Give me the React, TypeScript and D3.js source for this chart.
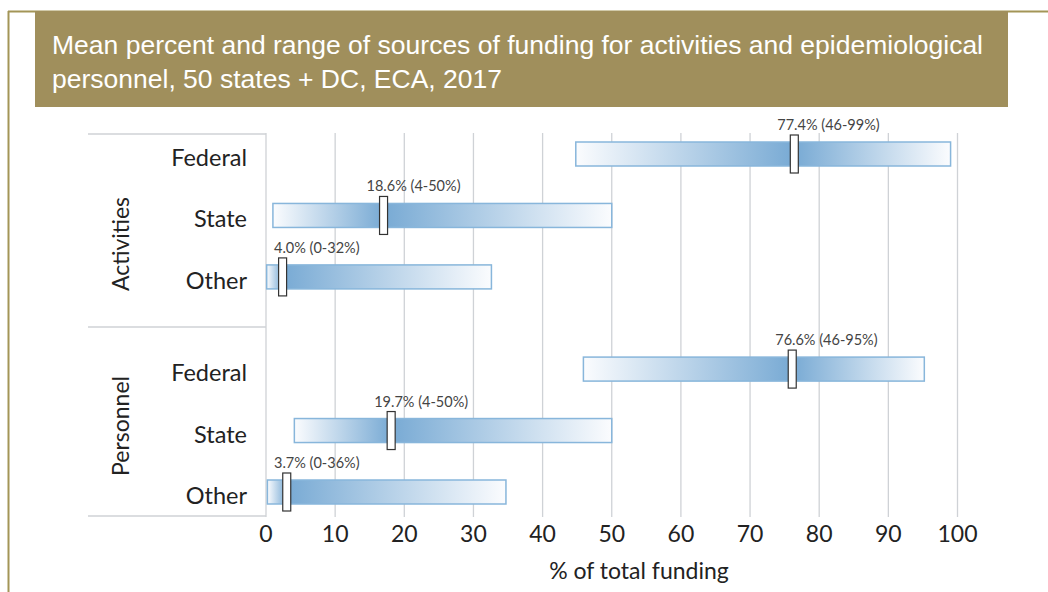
import React from "react";
import * as d3 from "d3";

const titleLines = [
  "Mean percent and range of sources of funding for activities and epidemiological",
  "personnel, 50 states + DC, ECA, 2017",
];
const groups = ["Activities", "Personnel"];
const sources = ["Federal", "State", "Other"];
// drawn values (row order: Activities F/S/O, Personnel F/S/O)
const lows = [44.8, 1.0, 0.1, 45.9, 4.1, 0.2];
const highs = [99.0, 50.0, 32.6, 95.2, 50.0, 34.7];
const means = [76.4, 17.0, 2.4, 76.1, 18.1, 3.0];
const valueLabels = [
  "77.4% (46-99%)",
  "18.6% (4-50%)",
  "4.0% (0-32%)",
  "76.6% (46-95%)",
  "19.7% (4-50%)",
  "3.7% (0-36%)",
];
const xTicks = [0, 10, 20, 30, 40, 50, 60, 70, 80, 90, 100];
const xTitle = "% of total funding";

const W = 1048;
const H = 592;
const FONT = "Lato, 'Open Sans', sans-serif";

export default function App() {
  const x = d3.scaleLinear().domain([0, 100]).range([266, 957.5]);
  const rows = groups.flatMap((g, gi) =>
    sources.map((s, si) => ({ g, s, gi, si, slot: gi * 3.5 + si }))
  );
  const y = d3.scaleLinear().domain([0, 5.5]).range([157, 495]);
  const barH = 24;
  const markW = 8;
  const markH = 38;
  const plotTop = 133;
  const plotBottom = 517;
  const groupEdges = [134, 327, 516];
  const groupCenters = [244, 426];

  return (
    <svg
      width={W}
      height={H}
      style={{ position: "absolute", left: 0, top: 0, background: "#fff" }}
    >
      <defs>
        {rows.map((r, i) => {
          const f = (means[i] - lows[i]) / (highs[i] - lows[i]);
          return (
            <linearGradient key={i} id={`g${i}`} x1="0" x2="1" y1="0" y2="0">
              <stop offset="0" stopColor="#fbfcfe" />
              <stop offset={f} stopColor="#78aad4" />
              <stop offset="1" stopColor="#fbfcfe" />
            </linearGradient>
          );
        })}
      </defs>

      {/* frame */}
      <line x1={8.5} x2={8.5} y1={11} y2={H} stroke="#a39557" strokeWidth={2} />
      <line x1={8} x2={W} y1={11.5} y2={11.5} stroke="#a39557" strokeWidth={2} />
      <rect x={35} y={11} width={973} height={96} fill="#a08f5c" />
      {titleLines.map((t, i) => (
        <text
          key={i}
          x={52}
          y={54 + i * 34}
          fill="#fff"
          fontFamily="'Liberation Sans', Arial, sans-serif"
          fontSize={26.5}
        >
          {t}
        </text>
      ))}

      {/* grid */}
      {xTicks.map((t) => (
        <line
          key={t}
          x1={x(t)}
          x2={x(t)}
          y1={plotTop}
          y2={plotBottom}
          stroke="#cfd2d6"
          strokeWidth={1.3}
        />
      ))}

      {/* left table lines */}
      {groupEdges.map((ge, i) => (
        <line key={i} x1={88} x2={x(0)} y1={ge} y2={ge} stroke="#cfd2d6" strokeWidth={1.3} />
      ))}

      {/* group labels */}
      {groups.map((g, i) => (
        <text
          key={g}
          transform={`translate(120,${groupCenters[i]}) rotate(-90)`}
          textAnchor="middle"
          dominantBaseline="central"
          fontFamily={FONT}
          fontSize={23}
          fill="#222"
        >
          {g}
        </text>
      ))}

      {/* category labels */}
      {rows.map((r, i) => (
        <text
          key={i}
          x={247}
          y={y(r.slot)}
          textAnchor="end"
          dominantBaseline="central"
          fontFamily={FONT}
          fontSize={23.5}
          fill="#222"
        >
          {r.s}
        </text>
      ))}

      {/* bars */}
      {rows.map((r, i) => {
        const cy = y(r.slot) - 3;
        const mx = x(means[i]);
        const lx = Math.max(x(means[i]) - 17, 274);
        return (
          <g key={i}>
            <rect
              x={x(lows[i])}
              y={cy - barH / 2}
              width={x(highs[i]) - x(lows[i])}
              height={barH}
              fill={`url(#g${i})`}
              stroke="#88b6db"
              strokeWidth={1.5}
            />
            <rect
              x={mx - markW / 2}
              y={cy - markH / 2}
              width={markW}
              height={markH}
              fill="#fff"
              stroke="#333"
              strokeWidth={1.2}
            />
            <text
              x={lx}
              y={cy - markH / 2 - 5}
              fontFamily={FONT}
              fontSize={14.5}
              fill="#444"
            >
              {valueLabels[i]}
            </text>
          </g>
        );
      })}

      {/* x axis ticks */}
      {xTicks.map((t) => (
        <text
          key={t}
          x={x(t)}
          y={542}
          textAnchor="middle"
          fontFamily={FONT}
          fontSize={23}
          fill="#222"
        >
          {t}
        </text>
      ))}
      <text
        x={639}
        y={579}
        textAnchor="middle"
        fontFamily={FONT}
        fontSize={23}
        fill="#222"
      >
        {xTitle}
      </text>
    </svg>
  );
}
